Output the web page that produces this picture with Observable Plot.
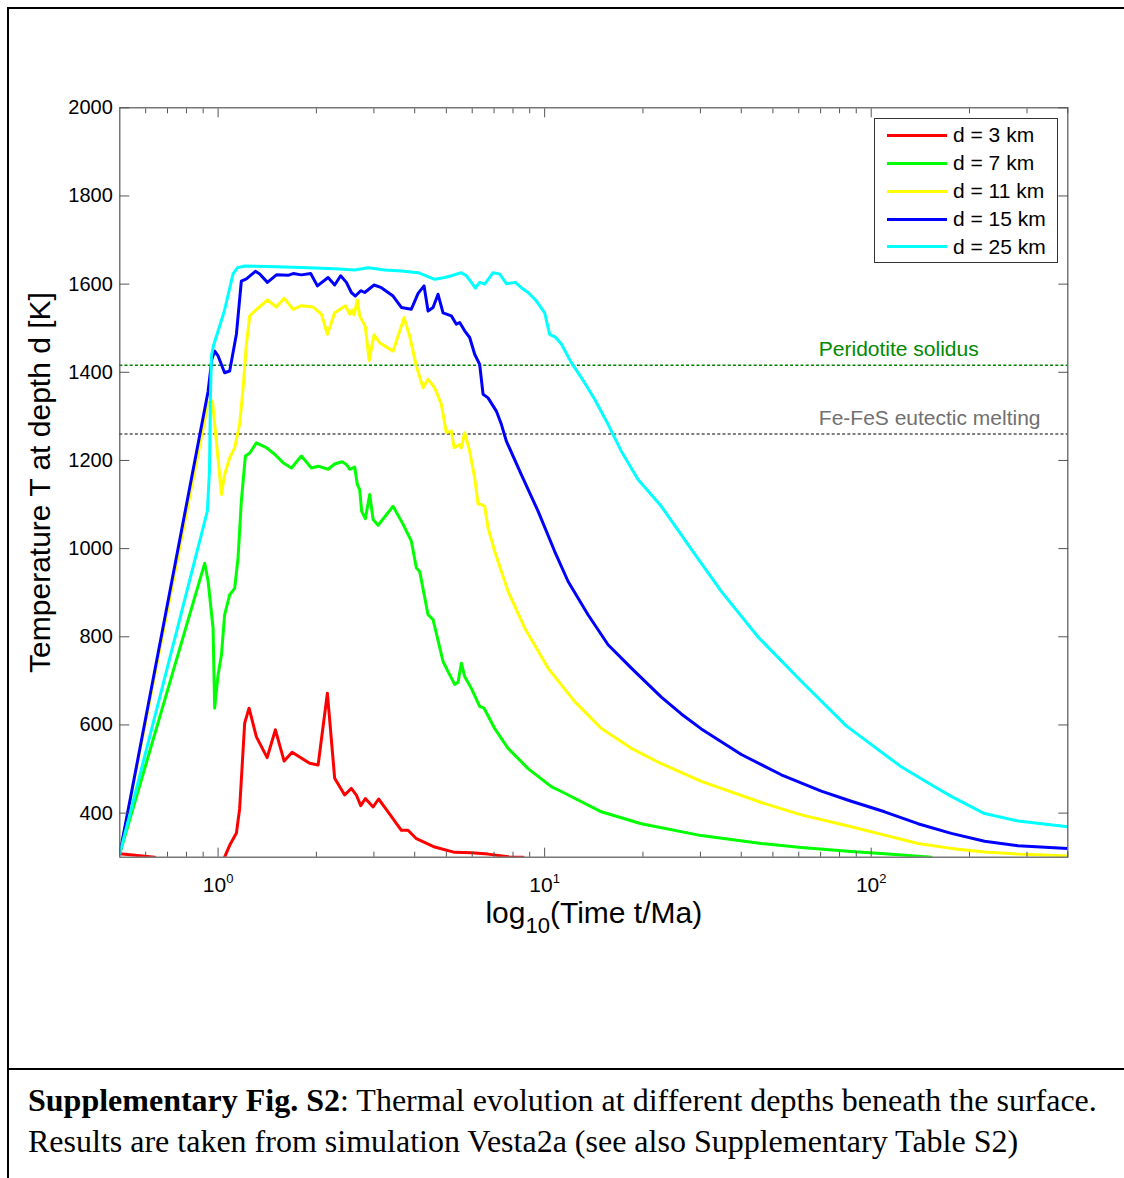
<!DOCTYPE html>
<html>
<head>
<meta charset="utf-8">
<script src="https://cdn.jsdelivr.net/npm/d3@7"></script>
<script src="https://cdn.jsdelivr.net/npm/@observablehq/plot@0.6"></script>
<style>
  html, body { margin: 0; padding: 0; background: #fff; }
  #fig { position: relative; width: 1124px; height: 1178px; overflow: hidden; background: #fff; }
  #fig svg { position: absolute; left: 0; top: 0; }
  .rule { position: absolute; background: #000; }
  #legend { position: absolute; left: 874px; top: 118px; width: 184px; height: 145px; box-sizing: border-box;
            border: 1px solid #333; background: #fff; font-family: "Liberation Sans", Arial, sans-serif; font-size: 21px; }
  .lrow { position: absolute; left: 0; height: 0; }
  .lsw { position: absolute; left: 12px; width: 60px; height: 3px; top: -1.5px; }
  .ltx { position: absolute; left: 78px; top: -12px; line-height: 24px; white-space: nowrap; color: #000; }
  #caption { position: absolute; left: 28px; top: 1080px; font-family: "Liberation Serif", "Times New Roman", serif;
             font-size: 32px; line-height: 41px; color: #000; white-space: nowrap; }
</style>
</head>
<body>
<div id="fig">
  <div class="rule" style="left:7px;top:7px;width:1130px;height:2px;"></div>
  <div class="rule" style="left:7px;top:7px;width:2px;height:1180px;"></div>
  <div class="rule" style="left:7px;top:1068px;width:1130px;height:2px;"></div>
  <div id="plot"></div>
  <div id="legend"></div>
  <div id="caption"><b>Supplementary Fig. S2</b>: Thermal evolution at different depths beneath the surface.<br>Results are taken from simulation Vesta2a (see also Supplementary Table S2)</div>
</div>
<script>
// ---------------- data ----------------
const depths = ["d = 3 km", "d = 7 km", "d = 11 km", "d = 15 km", "d = 25 km"];
const colors = ["#ff0000", "#00ff00", "#ffff00", "#0000ff", "#00ffff"];

// d = 3 km (null = curve below the axis range)
const time3 = [0.5, 0.64, 0.8, 1.047, 1.085, 1.138, 1.164, 1.206, 1.244, 1.310, 1.413, 1.498, 1.593, 1.685, 1.907, 2.024, 2.161, 2.275, 2.441, 2.559, 2.651, 2.734, 2.825, 2.983, 3.102, 3.315, 3.641, 3.817, 4.048, 4.605, 5.302, 5.965, 6.709, 7.726, 8.588];
const temp3 = [308, 300, null, 300, 327, 355, 410, 604, 638, 573, 526, 589, 518, 538, 513, 509, 672, 479, 441, 456, 441, 417, 433, 414, 432, 403, 361, 361, 342, 323, 311, 310, 307, 301, 300];

// d = 7 km
const time7 = [0.5, 0.910, 0.932, 0.965, 0.976, 1.0, 1.024, 1.047, 1.085, 1.124, 1.151, 1.178, 1.212, 1.250, 1.310, 1.406, 1.490, 1.581, 1.677, 1.799, 1.931, 2.024, 2.172, 2.275, 2.397, 2.471, 2.529, 2.620, 2.670, 2.714, 2.751, 2.825, 2.912, 2.983, 3.090, 3.434, 3.686, 3.906, 4.048, 4.143, 4.395, 4.553, 4.885, 5.061, 5.302, 5.43, 5.558, 5.689, 5.964, 6.324, 6.524, 7.030, 7.726, 8.899, 10.48, 11.25, 14.92, 19.77, 30.18, 46.08, 61.09, 86.9, 110, 152.9];
const temp7 = [308, 967, 926, 820, 638, 714, 759, 850, 895, 910, 979, 1108, 1210, 1217, 1240, 1229, 1214, 1195, 1183, 1210, 1183, 1187, 1180, 1192, 1197, 1191, 1180, 1185, 1145, 1134, 1085, 1068, 1123, 1066, 1053, 1096, 1055, 1017, 956, 948, 850, 839, 744, 721, 692, 697, 740, 710, 683, 642, 638, 592, 547, 501, 460, 449, 403, 376, 349, 331, 322, 313, 308, 300];

// d = 11 km
const time11 = [0.5, 0.932, 0.961, 1.024, 1.047, 1.085, 1.124, 1.164, 1.193, 1.221, 1.250, 1.294, 1.416, 1.509, 1.593, 1.697, 1.799, 1.954, 2.072, 2.161, 2.275, 2.454, 2.529, 2.572, 2.609, 2.670, 2.714, 2.825, 2.900, 3.004, 3.124, 3.434, 3.711, 3.861, 4.048, 4.243, 4.395, 4.605, 4.827, 5.000, 5.180, 5.280, 5.491, 5.558, 5.689, 5.894, 6.106, 6.254, 6.400, 6.552, 6.709, 7.030, 7.726, 8.686, 10.24, 12.36, 14.92, 18.43, 22.77, 30.18, 46.08, 61.09, 86.9, 109.9, 139.1, 175.9, 222.4, 281.5, 400];
const temp11 = [308, 1331, 1335, 1123, 1168, 1206, 1229, 1282, 1365, 1464, 1528, 1539, 1564, 1548, 1568, 1543, 1551, 1548, 1532, 1486, 1535, 1551, 1532, 1541, 1530, 1564, 1528, 1503, 1427, 1485, 1467, 1448, 1524, 1482, 1414, 1365, 1384, 1365, 1327, 1263, 1267, 1229, 1236, 1229, 1263, 1221, 1160, 1101, 1100, 1096, 1047, 994, 903, 820, 729, 653, 592, 547, 512, 472, 424, 396, 369, 350, 331, 320, 312, 307, 303];

// d = 15 km
const time15 = [0.5, 0.932, 0.957, 0.976, 1.0, 1.047, 1.085, 1.138, 1.178, 1.221, 1.301, 1.341, 1.416, 1.509, 1.638, 1.697, 1.799, 1.921, 2.014, 2.172, 2.275, 2.373, 2.471, 2.559, 2.633, 2.734, 2.811, 3.004, 3.162, 3.434, 3.641, 3.906, 4.097, 4.273, 4.395, 4.553, 4.716, 4.885, 5.180, 5.365, 5.493, 5.689, 5.894, 6.106, 6.324, 6.478, 6.709, 7.113, 7.370, 7.633, 8.484, 9.546, 10.73, 11.79, 13.58, 15.64, 18.43, 22.77, 26.21, 30.18, 40.02, 53.05, 70.34, 86.9, 109.9, 139.1, 175.9, 222.4, 281.5, 400];
const temp15 = [308, 1357, 1430, 1448, 1437, 1399, 1403, 1487, 1607, 1612, 1629, 1623, 1604, 1621, 1620, 1624, 1621, 1624, 1596, 1615, 1598, 1619, 1604, 1581, 1573, 1585, 1581, 1598, 1592, 1573, 1547, 1543, 1579, 1596, 1539, 1547, 1577, 1535, 1528, 1509, 1513, 1494, 1479, 1441, 1418, 1350, 1342, 1312, 1282, 1244, 1168, 1085, 994, 926, 850, 782, 729, 663, 625, 591, 533, 487, 450, 427, 403, 376, 354, 336, 326, 320];

// d = 25 km
const time25 = [0.5, 0.927, 0.941, 0.947, 0.954, 0.967, 1.045, 1.111, 1.146, 1.206, 1.423, 1.799, 2.275, 2.619, 2.88, 3.237, 3.641, 4.097, 4.605, 4.942, 5.180, 5.558, 5.758, 5.964, 6.136, 6.324, 6.552, 6.950, 7.282, 7.633, 8.133, 8.484, 8.899, 9.432, 10.0, 10.36, 10.78, 11.25, 12.07, 12.95, 14.23, 15.64, 17.17, 19.32, 22.77, 28.12, 34.75, 45.11, 61.09, 83.89, 123.6, 154.6, 175.9, 222.4, 281.9, 400];
const temp25 = [308, 1085, 1176, 1335, 1437, 1459, 1539, 1623, 1637, 1641, 1640, 1638, 1635, 1632, 1637, 1632, 1630, 1626, 1611, 1615, 1619, 1626, 1619, 1604, 1591, 1604, 1600, 1626, 1623, 1601, 1604, 1592, 1581, 1562, 1535, 1486, 1480, 1464, 1422, 1388, 1339, 1282, 1221, 1157, 1096, 999, 903, 799, 699, 598, 505, 462, 438, 399, 382, 369];

// reference levels
const refTemps = [1416, 1260];
const refLabels = ["Peridotite solidus", "Fe-FeS eutectic melting"];
const refLineColors = ["#008000", "#555555"];
const refTextColors = ["#008a00", "#707070"];

// ticks
const xMajor = [1, 10, 100];
const xMajorLabels = ["10^0", "10^1", "10^2"];
const xMinor = [0.6, 0.7, 0.8, 0.9, 2, 3, 4, 5, 6, 7, 8, 9, 20, 30, 40, 50, 60, 70, 80, 90, 200, 300, 400];
const yTicks = [400, 600, 800, 1000, 1200, 1400, 1600, 1800, 2000];

const xLabel = "log10(Time t/Ma)";
const yLabel = "Temperature T at depth d [K]";

// ---------------- build ----------------
const series = [[depths[0], time3, temp3], [depths[1], time7, temp7], [depths[2], time11, temp11], [depths[3], time15, temp15], [depths[4], time25, temp25]];
const rows = [];
for (const [depth, ts, Ts] of series) ts.forEach((t, i) => rows.push({depth, t, T: Ts[i]}));
const refs = refTemps.map((T, i) => ({T, label: refLabels[i], line: refLineColors[i], text: refTextColors[i]}));

const axisColor = "#555";
const majorLen = 9, minorLen = 5;
const blank = () => "";

const plot = Plot.plot({
  width: 1124,
  height: 1060,
  marginLeft: 119.3,
  marginRight: 56.7,
  marginTop: 107.3,
  marginBottom: 203.3,
  style: {fontFamily: "'Liberation Sans', Arial, Helvetica, sans-serif", fontSize: "20px", background: "transparent", color: "#000", overflow: "visible"},
  x: {type: "log", domain: [0.5, 400], axis: null},
  y: {domain: [300, 2000], axis: null},
  color: {domain: depths, range: colors},
  marks: [
    // reference lines
    Plot.ruleY(refs, {y: "T", stroke: "line", strokeWidth: 1.5, strokeDasharray: "3,2.2"}),
    Plot.text(refs, {y: "T", text: "label", fill: "text", frameAnchor: "right", textAnchor: "start", dx: -249, dy: -16, fontSize: 21}),
    // curves
    Plot.line(rows, {x: "t", y: "T", z: "depth", stroke: "depth", strokeWidth: 3, strokeLinejoin: "round", clip: true}),
    // box
    Plot.frame({stroke: axisColor, strokeWidth: 1.2}),
    // inward ticks
    Plot.axisX(xMajor, {anchor: "bottom", tickSize: majorLen, dy: -majorLen, tickFormat: blank, label: null, stroke: axisColor}),
    Plot.axisX(xMinor, {anchor: "bottom", tickSize: minorLen, dy: -minorLen, tickFormat: blank, label: null, stroke: axisColor}),
    Plot.axisX(xMajor, {anchor: "top", tickSize: majorLen, dy: majorLen, tickFormat: blank, label: null, stroke: axisColor}),
    Plot.axisX(xMinor, {anchor: "top", tickSize: minorLen, dy: minorLen, tickFormat: blank, label: null, stroke: axisColor}),
    Plot.axisY(yTicks, {anchor: "left", tickSize: 10, dx: 10, tickFormat: blank, label: null, stroke: axisColor}),
    Plot.axisY(yTicks, {anchor: "right", tickSize: 10, dx: -10, tickFormat: blank, label: null, stroke: axisColor}),
    // tick labels
    Plot.axisX(xMajor, {anchor: "bottom", tickSize: 0, tickPadding: 20, tickFormat: (d) => xMajorLabels[xMajor.indexOf(d)], label: null, fontSize: 21, fill: "#000"}),
    Plot.axisY(yTicks, {anchor: "left", tickSize: 0, tickPadding: 7, tickFormat: (d) => String(d), label: null, fontSize: 20, fill: "#000"}),
    // axis titles
    Plot.text([yLabel], {frameAnchor: "left", textAnchor: "middle", text: (d) => d, rotate: -90, dx: -79, fontSize: 30, fill: "#000"}),
    Plot.text([xLabel], {frameAnchor: "bottom", textAnchor: "middle", text: (d) => d, dy: 66, fontSize: 30, fill: "#000"})
  ]
});
document.getElementById("plot").appendChild(plot);

// superscripts for x tick labels, subscript for x title
d3.select(plot).selectAll("text").each(function () {
  const s = this.textContent;
  if (/^10\^\d$/.test(s)) {
    const [base, exp] = s.split("^");
    this.textContent = base;
    d3.select(this).append("tspan").attr("font-size", "13px").attr("dy", "-9").text(exp);
  } else if (s === xLabel) {
    this.textContent = "log";
    const t = d3.select(this);
    t.append("tspan").attr("font-size", "22px").attr("dy", "10").text("10");
    t.append("tspan").attr("dy", "-10").text("(Time t/Ma)");
  }
});

// legend
const legend = document.getElementById("legend");
const rowY = [16, 44, 72, 100, 127.5];
depths.forEach((d, i) => {
  const r = document.createElement("div");
  r.className = "lrow";
  r.style.top = rowY[i] + "px";
  r.innerHTML = `<div class="lsw" style="background:${colors[i]}"></div><div class="ltx">${d}</div>`;
  legend.appendChild(r);
});
</script>
</body>
</html>
